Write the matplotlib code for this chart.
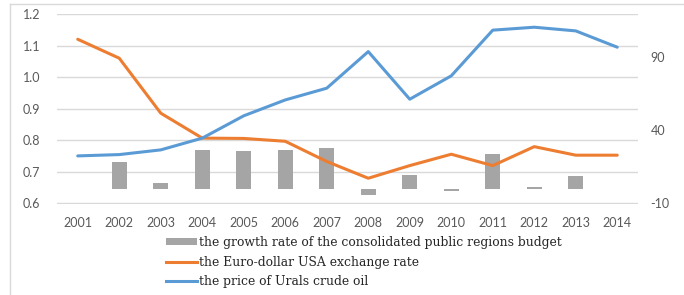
import numpy as np
import matplotlib
matplotlib.use('Agg')
import matplotlib.pyplot as plt
from matplotlib.lines import Line2D
from matplotlib.patches import Patch

# ============================================================
# data
# ============================================================
years = [2001, 2002, 2003, 2004, 2005, 2006, 2007,
         2008, 2009, 2010, 2011, 2012, 2013, 2014]
budget_growth = [0, 18, 4, 26.7, 26, 26.7, 28,
                 -4, 9.5, -1.5, 24, 1, 8.4, 0]          # right axis
euro_dollar = [1.12, 1.06, 0.886, 0.807, 0.806, 0.797, 0.733,
               0.68, 0.72, 0.756, 0.72, 0.78, 0.753, 0.753]   # left axis
urals_oil = [22.4, 23.3, 26.5, 34.5, 49.7, 60.5, 68.5,
             93.4, 61, 76.9, 108, 110, 107.5, 96.4]     # right axis

left_ticks = [0.6, 0.7, 0.8, 0.9, 1.0, 1.1, 1.2]
right_ticks = [-10, 40, 90]
labels = ['the growth rate of the consolidated public regions budget',
          'the Euro-dollar USA exchange rate',
          'the price of Urals crude oil']

C_BAR = '#a5a5a5'
C_ORANGE = '#ed7d31'
C_BLUE = '#5b9bd5'
C_TXT = '#595959'
TICK_FONT = 'Lato'

plt.rcParams['axes.unicode_minus'] = False

fig = plt.figure(figsize=(6.84, 2.95), dpi=100)
ax = fig.add_axes([57 / 684, 1 - 203.5 / 295, 581 / 684, 189.5 / 295])
ax2 = ax.twinx()

x = np.arange(len(years))

# grid + left axis
ax.set_ylim(0.6, 1.2)
ax.set_yticks(left_ticks)
ax.set_yticklabels([f'{v:.1f}' for v in left_ticks])
ax.grid(axis='y', color='#d9d9d9', lw=1.0)
ax.set_axisbelow(True)
ax.set_xlim(-0.5, len(years) - 0.5)
ax.set_xticks(x)
ax.set_xticklabels([str(y) for y in years])

# right axis: bars + oil, euro-dollar drawn in left-axis coords
ax2.bar(x, budget_growth, width=0.36, color=C_BAR, zorder=1)
ax2.plot(x, euro_dollar, color=C_ORANGE, lw=2.2, transform=ax.transData,
         zorder=2, solid_capstyle='round')
ax2.plot(x, urals_oil, color=C_BLUE, lw=2.2, zorder=3, solid_capstyle='round')
ax2.set_ylim(-10, 119)
ax2.set_yticks(right_ticks)
ax.set_xlim(-0.5, len(years) - 0.5)

for a in (ax, ax2):
    for s in a.spines.values():
        s.set_visible(False)
    a.tick_params(length=0, labelsize=9, colors=C_TXT)
    for t in a.get_xticklabels() + a.get_yticklabels():
        t.set_fontfamily(TICK_FONT)
ax.tick_params(axis='y', pad=12)
ax.tick_params(axis='x', pad=10)
ax2.tick_params(axis='y', pad=9)

# legend
handles = [Patch(facecolor=C_BAR, edgecolor='none'),
           Line2D([], [], color=C_ORANGE, lw=2.2),
           Line2D([], [], color=C_BLUE, lw=2.2)]
fig.legend(handles, labels, loc='upper left', bbox_to_anchor=(166 / 684, 1 - 236 / 295),
           frameon=False, prop={'family': 'DejaVu Serif', 'size': 8.9},
           handlelength=2.5, handleheight=0.55, handletextpad=0.2,
           labelspacing=0.53, borderpad=0, borderaxespad=0, labelcolor='#262626')

# outer chart border (top and left edges visible)
fig.add_artist(Line2D([10 / 684, 10 / 684], [0, 1 - 4 / 295], color='#d9d9d9', lw=1))
fig.add_artist(Line2D([10 / 684, 1], [1 - 4 / 295, 1 - 4 / 295], color='#d9d9d9', lw=1))

plt.savefig('out.png', dpi=100)
plt.close('all')
